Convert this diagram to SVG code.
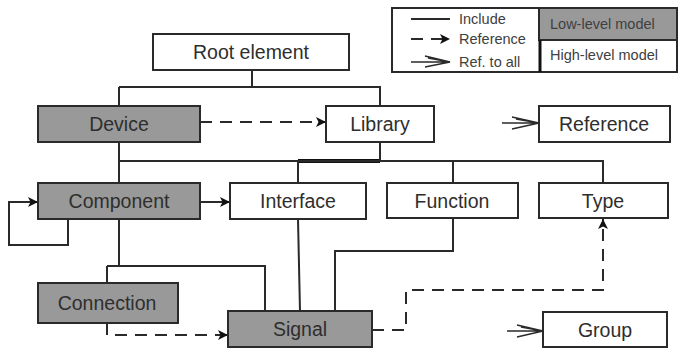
<svg xmlns="http://www.w3.org/2000/svg" width="678" height="350" viewBox="0 0 678 350">
  <style>
    .box { fill: #ffffff; stroke: #2a2a2a; stroke-width: 2; }
    .low { fill: #999999; }
    .lbl { font-family: "Liberation Sans", Arial, sans-serif; font-size: 19.5px; fill: #2e2e2e; text-anchor: middle; }
    .leg { font-family: "Liberation Sans", Arial, sans-serif; font-size: 14.5px; fill: #404040; }
    .inc { fill: none; stroke: #2a2a2a; stroke-width: 2; }
    .ref { fill: none; stroke: #2a2a2a; stroke-width: 2; stroke-dasharray: 12 8; }
    .all { fill: none; stroke: #2a2a2a; stroke-width: 1.5; }
  </style>
  <defs>
    <marker id="tri" viewBox="0 0 10 10" refX="10" refY="5" markerWidth="10" markerHeight="10" markerUnits="userSpaceOnUse" orient="auto">
      <path d="M0,0 L10,5 L0,10 L2.5,5 Z" fill="#111111"/>
    </marker>
  </defs>

  <!-- legend -->
  <g id="legend">
    <rect x="392" y="8" width="285" height="64" fill="#ffffff" stroke="#2a2a2a" stroke-width="2"/>
    <rect x="539" y="8" width="138" height="32" fill="#999999" stroke="#2a2a2a" stroke-width="2"/>
    <line x1="540" y1="40" x2="540" y2="72" stroke="#111111" stroke-width="3"/>
    <line x1="411" y1="19" x2="450" y2="19" class="inc"/>
    <line x1="411" y1="39" x2="450" y2="39" class="ref" stroke-dasharray="12 8" marker-end="url(#tri)"/>
    <path d="M411,62 L450,62 M425,56 L450,62 L425,67 M428,58 L450,62" class="all"/>
    <text x="459" y="24" class="leg">Include</text>
    <text x="459" y="44" class="leg">Reference</text>
    <text x="459" y="67" class="leg">Ref. to all</text>
    <text x="550" y="29" class="leg">Low-level model</text>
    <text x="550" y="60" class="leg">High-level model</text>
  </g>

  <!-- connectors -->
  <g id="connectors">
    <!-- include -->
    <path d="M252,70 V87 M119,87 H380 V106 M119,87 V106" class="inc"/>
    <path d="M119,142 V161 H380 M119,161 V183" class="inc"/>
    <path d="M298,161 H380" fill="none" stroke="#111111" stroke-width="4"/>
    <path d="M380,142 V161 M298,161 H603 V183 M453,161 V183 M298,161 V183" class="inc"/>
    <path d="M119,219 V266 M107,266 H265 V311 M107,266 V283" class="inc"/>
    <path d="M298,219 L300,311" class="inc"/>
    <path d="M453,218 V251 H335 V311" class="inc"/>
    <!-- reference -->
    <path d="M200,122 H326" class="ref" marker-end="url(#tri)"/>
    <path d="M200,202 H230" class="inc" marker-end="url(#tri)"/>
    <path d="M68,219 V245 H9 V202 H38" class="inc" marker-end="url(#tri)"/>
    <path d="M107,323 V335 H228" class="ref" marker-end="url(#tri)"/>
    <path d="M372,330 H406 V290 H603 V219" class="ref" marker-end="url(#tri)"/>
    <!-- reference to all -->
    <path d="M502,123 L539,123 M512,117 L539,123 L512,129 M516,119 L539,123" class="all"/>
    <path d="M507,331 L543,331 M517,325 L543,331 L517,337 M521,327 L543,331" class="all"/>
  </g>

  <!-- nodes -->
  <g id="root"><rect x="153" y="34" width="196" height="36" class="box"/><text x="251" y="59" class="lbl">Root element</text></g>
  <g id="device"><rect x="38" y="106" width="162" height="36" class="box low"/><text x="119" y="131" class="lbl">Device</text></g>
  <g id="library"><rect x="326" y="106" width="108" height="36" class="box"/><text x="380" y="131" class="lbl">Library</text></g>
  <g id="reference"><rect x="539" y="106" width="131" height="36" class="box"/><text x="604" y="131" class="lbl">Reference</text></g>
  <g id="component"><rect x="38" y="183" width="162" height="36" class="box low"/><text x="119" y="208" class="lbl">Component</text></g>
  <g id="interface"><rect x="230" y="183" width="136" height="36" class="box"/><text x="298" y="208" class="lbl">Interface</text></g>
  <g id="function"><rect x="387" y="183" width="131" height="35" class="box"/><text x="452" y="208" class="lbl">Function</text></g>
  <g id="type"><rect x="539" y="183" width="129" height="35" class="box"/><text x="603" y="208" class="lbl">Type</text></g>
  <g id="connection"><rect x="38" y="283" width="140" height="40" class="box low"/><text x="107" y="310" class="lbl">Connection</text></g>
  <g id="signal"><rect x="228" y="311" width="144" height="36" class="box low"/><text x="300" y="336" class="lbl">Signal</text></g>
  <g id="group"><rect x="543" y="312" width="124" height="35" class="box"/><text x="605" y="337" class="lbl">Group</text></g>
</svg>
